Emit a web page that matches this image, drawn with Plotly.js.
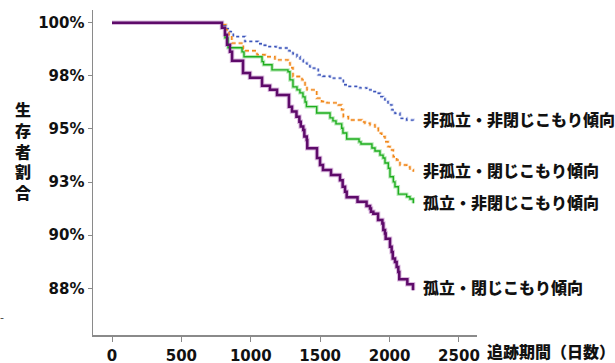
<!DOCTYPE html>
<html>
<head>
<meta charset="utf-8">
<script src="https://cdn.plot.ly/plotly-3.0.1.min.js"></script>
<style>html,body{margin:0;padding:0;background:#fff;}#chart{width:615px;height:363px;}</style>
</head>
<body>
<div id="chart"></div>
<script>
// Series names
const seriesNames = ["非孤立・非閉じこもり傾向", "非孤立・閉じこもり傾向", "孤立・非閉じこもり傾向", "孤立・閉じこもり傾向"];

// 非孤立・非閉じこもり傾向 (blue dotted)
const blueDays = [0, 790, 821, 850, 874, 958, 1052, 1081, 1124, 1182, 1275, 1304, 1333, 1355, 1378, 1405, 1427, 1486, 1520, 1571, 1667, 1700, 1787, 1835, 1873, 1909, 1931, 1953, 1967, 1989, 2017, 2039, 2075, 2123, 2171];
const blueVals = [100, 99.86, 99.72, 99.58, 99.35, 99.12, 99.01, 98.94, 98.88, 98.81, 98.68, 98.54, 98.40, 98.25, 98.10, 97.97, 97.86, 97.55, 97.48, 97.39, 97.08, 97.00, 96.93, 96.84, 96.76, 96.68, 96.52, 96.42, 96.29, 96.13, 95.90, 95.74, 95.50, 95.42, 95.34];

// 非孤立・閉じこもり傾向 (orange dashed)
const orangeDays = [0, 800, 821, 843, 863, 946, 958, 1045, 1102, 1174, 1268, 1283, 1304, 1369, 1391, 1405, 1475, 1511, 1549, 1631, 1655, 1667, 1703, 1799, 1823, 1859, 1895, 1919, 1943, 1967, 1989, 2003, 2027, 2051, 2075, 2123, 2147, 2171];
const orangeVals = [100, 99.91, 99.67, 99.43, 99.04, 98.77, 98.68, 98.49, 98.40, 98.25, 98.11, 97.88, 97.47, 97.31, 97.03, 96.84, 96.45, 96.29, 96.23, 96.13, 95.90, 95.58, 95.42, 95.33, 95.27, 95.19, 95.03, 94.80, 94.64, 94.40, 94.17, 94.01, 93.69, 93.54, 93.30, 93.21, 93.07, 92.99];

// 孤立・非閉じこもり傾向 (green solid)
const greenDays = [0, 792, 814, 836, 937, 951, 1081, 1092, 1153, 1268, 1282, 1304, 1333, 1354, 1376, 1391, 1401, 1475, 1571, 1592, 1614, 1655, 1664, 1691, 1780, 1794, 1873, 1895, 1931, 1953, 1967, 1991, 2003, 2027, 2039, 2063, 2123, 2147, 2171];
const greenVals = [100, 99.76, 99.29, 98.82, 98.63, 98.40, 98.17, 98.02, 97.78, 97.69, 97.31, 96.98, 96.84, 96.70, 96.51, 96.27, 96.05, 95.75, 95.52, 95.38, 95.24, 95.03, 94.81, 94.53, 94.39, 94.29, 94.10, 93.96, 93.77, 93.63, 93.40, 93.15, 92.75, 92.51, 92.28, 91.93, 91.81, 91.70, 91.50];

// 孤立・閉じこもり傾向 (purple thick)
const purpleDays = [0, 792, 814, 829, 850, 865, 944, 994, 1081, 1138, 1189, 1275, 1297, 1329, 1350, 1360, 1378, 1386, 1403, 1407, 1477, 1499, 1520, 1578, 1643, 1662, 1679, 1691, 1769, 1834, 1859, 1866, 1883, 1917, 1948, 1955, 1967, 1972, 2003, 2015, 2023, 2039, 2051, 2063, 2070, 2128, 2169];
const purpleVals = [100, 99.76, 99.43, 98.96, 98.63, 98.21, 97.64, 97.41, 97.03, 96.84, 96.60, 96.05, 95.82, 95.58, 95.34, 95.11, 94.95, 94.64, 94.48, 94.09, 93.63, 93.30, 93.07, 92.83, 92.59, 92.28, 92.04, 91.79, 91.57, 91.37, 91.26, 91.10, 91.01, 90.71, 90.55, 90.24, 90.08, 89.83, 89.45, 89.21, 88.90, 88.74, 88.50, 88.26, 87.92, 87.69, 87.41];

// Label anchor values (y, in %) and ticks
const labelVals = [95.48, 93.07, 91.56, 87.55];
const labelDay = 2226;
const xTickVals = [0, 500, 1000, 1500, 2000, 2500];
const xTickText = ["0", "500", "1000", "1500", "2000", "2500"];
const yTickVals = [100, 97.5, 95, 92.5, 90, 87.5];
const yTickText = ["100%", "98%", "95%", "93%", "90%", "88%"];
const xTitle = "追跡期間（日数）";
const yTitle = "生存者割合";

const CJK = "'Noto Sans CJK JP', 'Noto Sans', sans-serif";
const LAT = "'DejaVu Sans', Verdana, sans-serif";

function step(x, y, color, width, dash, opacity) {
  return {x: x, y: y, type: 'scatter', mode: 'lines', line: {shape: 'hv', color: color, width: width, dash: dash}, opacity: opacity, hoverinfo: 'skip', showlegend: false};
}

const traces = [
  step(blueDays, blueVals, '#b9c3ec', 3, 'dot', 0.8),
  step(orangeDays, orangeVals, '#fbd2a6', 3, '4px,3px', 0.8),
  step(greenDays, greenVals, '#b3e6b3', 3.5, 'solid', 0.9),
  step(purpleDays, purpleVals, '#d7b2dc', 4.5, 'solid', 0.9),
  step(blueDays, blueVals, '#3d55b8', 1.3, 'dot', 1),
  step(orangeDays, orangeVals, '#f0871a', 1.4, '4px,3px', 1),
  step(greenDays, greenVals, '#1fae1f', 1.4, 'solid', 1),
  step(purpleDays, purpleVals, '#5e0b6a', 2.5, 'solid', 1)
];

const annotations = seriesNames.map((n, i) => ({
  x: labelDay, y: labelVals[i], xref: 'x', yref: 'y', text: n,
  showarrow: false, xanchor: 'left', yanchor: 'middle',
  font: {family: CJK, size: 16, weight: 900, color: '#111'}
}));
annotations.push({
  x: 1.02, y: -0.05, xref: 'paper', yref: 'paper', text: xTitle,
  showarrow: false, xanchor: 'left', yanchor: 'middle', font: {family: CJK, size: 16, weight: 900, color: '#111'}
});
annotations.push({
  x: -0.182, y: 0.569, xref: 'paper', yref: 'paper', text: yTitle.split('').join('<br>'),
  showarrow: false, xanchor: 'center', yanchor: 'middle', font: {family: CJK, size: 16, weight: 900, color: '#111'}
});
annotations.push({
  x: -0.236, y: 0.055, xref: 'paper', yref: 'paper', text: '-',
  showarrow: false, xanchor: 'center', yanchor: 'middle', font: {family: LAT, size: 11, color: '#444'}
});

const layout = {
  width: 615, height: 363,
  margin: {l: 93, r: 138, t: 10, b: 28, pad: 0},
  paper_bgcolor: '#fff', plot_bgcolor: '#fff',
  showlegend: false,
  xaxis: {
    range: [-137, 2630], showgrid: false, zeroline: false,
    showline: true, linecolor: '#8a8a8a', linewidth: 1.5,
    ticks: 'outside', ticklen: 5, tickwidth: 1, tickcolor: '#8a8a8a',
    tickvals: xTickVals, ticktext: xTickText, ticklabelstandoff: 1,
    tickfont: {family: LAT, size: 15, weight: 'bold', color: '#111'}
  },
  yaxis: {
    range: [85.3, 100.6], showgrid: false, zeroline: false,
    showline: true, linecolor: '#8a8a8a', linewidth: 1.5,
    ticks: 'outside', ticklen: 4, tickwidth: 1, tickcolor: '#8a8a8a',
    tickvals: yTickVals, ticktext: yTickText,
    tickfont: {family: LAT, size: 15, weight: 'bold', color: '#111'}
  },
  annotations: annotations
};

Plotly.newPlot('chart', traces, layout, {displayModeBar: false, staticPlot: true});
</script>
</body>
</html>
